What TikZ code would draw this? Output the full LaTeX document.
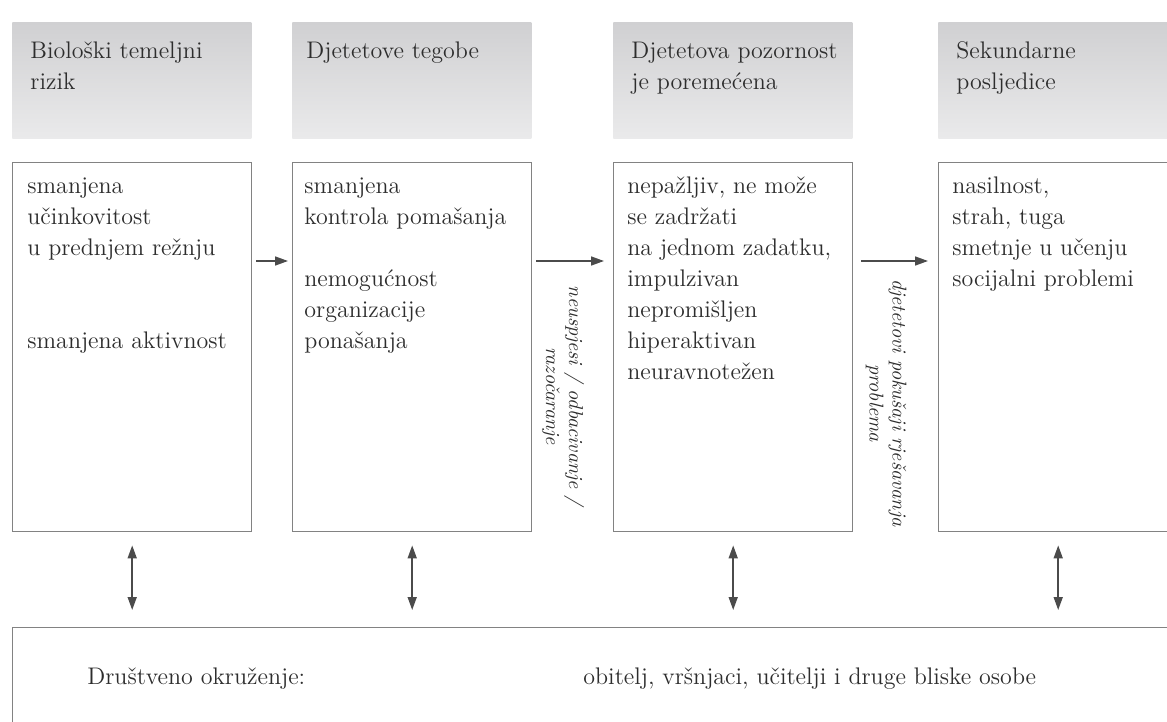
\documentclass[tikz,border=0pt]{standalone}
\usepackage{tikz}
\usetikzlibrary{arrows.meta,calc}
\definecolor{inkgray}{RGB}{45,45,45}
\definecolor{linegray}{RGB}{130,130,130}
\definecolor{arrowgray}{RGB}{75,75,75}
\definecolor{hdrtop}{RGB}{208,208,210}
\definecolor{hdrbot}{RGB}{234,234,235}
\tikzset{
  colbox/.style={draw=linegray, line width=0.7pt, fill=white, anchor=north west,
    minimum width=119.5pt, minimum height=184.5pt, inner sep=0pt},
  hdrbox/.style={top color=hdrtop, bottom color=hdrbot, anchor=north west,
    minimum width=119.5pt, minimum height=58pt, inner sep=0pt},
  boxtext/.style={anchor=north west, align=left, inner sep=0pt, text=inkgray,
    font=\fontsize{12}{15.5}\selectfont},
  sidetext/.style={rotate=-90, align=center, inner sep=0pt, text=inkgray,
    font=\fontsize{10}{11.5}\selectfont\itshape},
  flow/.style={draw=arrowgray, line width=0.8pt, -{Triangle[length=6.5pt,width=4.5pt]}},
  link/.style={draw=arrowgray, line width=0.8pt,
    {Triangle[length=6.5pt,width=4.5pt]}-{Triangle[length=6.5pt,width=4.5pt]}}
}

\begin{document}
\begin{tikzpicture}[x=0.5pt, y=-0.5pt]
		%%%%% START %%%%%
		\useasboundingbox (0,0) rectangle (1167,722);
		\clip (0,0) rectangle (1167,722);
		\fill[white] (0,0) rectangle (1167,722);
		
		% grey headers
		\node[hdrbox] (h1) at (12,22) {};
		\node[hdrbox] (h2) at (292,22) {};
		\node[hdrbox] (h3) at (613,22) {};
		\node[hdrbox] (h4) at (938,22) {};
		
		\node[boxtext] (ht1) at ($(h1.north west)+(18,14)$) {\strut Biološki temeljni\\rizik};
		\node[boxtext] (ht2) at ($(h2.north west)+(14,14)$) {\strut Djetetove tegobe};
		\node[boxtext] (ht3) at ($(h3.north west)+(18,14)$) {\strut Djetetova pozornost\\je poremećena};
		\node[boxtext] (ht4) at ($(h4.north west)+(18,14)$) {\strut Sekundarne\\posljedice};
		
		% columns
		\node[colbox] (b1) at (12,162) {};
		\node[colbox] (b2) at (292,162) {};
		\node[colbox] (b3) at (613,162) {};
		\node[colbox] (b4) at (938,162) {};
		
		\node[boxtext] (t1) at ($(b1.north west)+(15,9)$) {\strut smanjena\\učinkovitost\\u prednjem režnju\\[31pt]smanjena aktivnost};
		\node[boxtext] (t2) at ($(b2.north west)+(12,9)$) {\strut smanjena\\kontrola pomašanja\\[15.5pt]nemogućnost\\organizacije\\ponašanja};
		\node[boxtext] (t3) at ($(b3.north west)+(14,9)$) {\strut nepažljiv, ne može\\se zadržati\\na jednom zadatku,\\impulzivan\\nepromišljen\\hiperaktivan\\neuravnotežen};
		\node[boxtext] (t4) at ($(b4.north west)+(14,9)$) {\strut nasilnost,\\strah, tuga\\smetnje u učenju\\socijalni problemi};
		
		% arrows between columns
		\coordinate (lvl) at (0,261);
		\draw[flow, shorten <=2pt, shorten >=2pt] (b1.east |- lvl) -- (b2.west |- lvl);
		\draw[flow, shorten <=2pt, shorten >=4.5pt] (b2.east |- lvl) -- (b3.west |- lvl);
		\draw[flow, shorten <=4pt, shorten >=5pt] (b3.east |- lvl) -- (b4.west |- lvl);
		
		\node[sidetext] (s1) at (563,396) {neuspjesi / odbacivanje /\\razočaranje};
		\node[sidetext] (s2) at (886,403) {djetetovi pokušaji rješavanja\\problema};
		
		% social surroundings
		\node[colbox, minimum width=700pt, minimum height=80pt] (soc) at (12,627) {};
		\node[boxtext, anchor=base west] (st1) at ($(soc.north west)+(75,57)$) {Društveno okruženje:};
		\node[boxtext, anchor=base west] (st2) at ($(soc.north west)+(571,57)$) {obitelj, vršnjaci, učitelji i druge bliske osobe};
		
		\foreach \b in {b1,b2,b3,b4}
			\draw[link, shorten <=6.5pt, shorten >=8.5pt] (\b.south) -- (\b.south |- soc.north);
		
		%%%%% END %%%%%
	\end{tikzpicture}
\end{document}
